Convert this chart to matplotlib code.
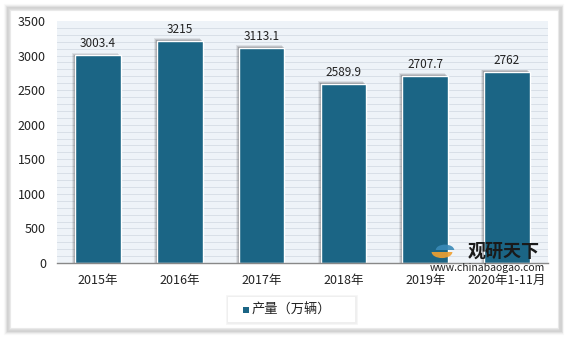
import matplotlib.pyplot as plt
from matplotlib.patches import Rectangle, Wedge
import numpy as np

plt.rcParams['font.family'] = ['Noto Sans CJK SC', 'DejaVu Sans']

categories = ['2015年', '2016年', '2017年', '2018年', '2019年', '2020年1-11月']
values = [3003.4, 3215, 3113.1, 2589.9, 2707.7, 2762]
value_labels = ['3003.4', '3215', '3113.1', '2589.9', '2707.7', '2762']
legend_label = '产量（万辆）'
bar_color = '#1b6585'

fig = plt.figure(figsize=(5.78, 3.37), dpi=100)
fig.patch.set_facecolor('white')

# outer panel with soft grey border (heavier to the right / bottom)
for i, a in enumerate([0.04, 0.07, 0.10, 0.14]):
    fig.patches.append(Rectangle((0.010 + i * 0.002, 0.012 + i * 0.003), 0.962 - i * 0.003, 0.97 - i * 0.006,
                                 transform=fig.transFigure, facecolor='none',
                                 edgecolor=(0.45, 0.45, 0.45, a), lw=3))

ax = fig.add_axes([57 / 578, 1 - 263 / 337, 491 / 578, 242 / 337])
ax.set_facecolor('#eef3f8')
x = np.arange(len(categories))
ax.set_xlim(-0.5, len(categories) - 0.5)
ax.set_ylim(0, 3500)

for yv in np.arange(100, 3500, 100):
    ax.axhline(yv, color='#d8dfe7', lw=0.7, zorder=0)

w = 0.56
# drop shadow to the upper-left
for k, alpha in enumerate([0.08, 0.12, 0.18]):
    off = (3 - k) * 0.012
    ax.bar(x - off, np.array(values) + (3 - k) * 12, width=w, color='black', alpha=alpha, zorder=1, lw=0)
ax.bar(x, values, width=w, color=bar_color, edgecolor='white', lw=1.0, zorder=2)

for xi, v, lab in zip(x, values, value_labels):
    ax.text(xi, v + 70, lab, ha='center', va='bottom', fontsize=8.5, color='#222222', zorder=3)

ax.set_yticks(np.arange(0, 3501, 500))
ax.set_xticks(x)
ax.set_xticklabels(categories, fontsize=9, color='#222222')
ax.tick_params(axis='y', labelsize=9, colors='#222222', length=0, pad=8)
ax.tick_params(axis='x', length=0, pad=8)
for s in ['top', 'right', 'left']:
    ax.spines[s].set_visible(False)
ax.spines['bottom'].set_color('#888888')
ax.spines['bottom'].set_linewidth(1.0)

# watermark
fig.text(504 / 578, 1 - 251 / 337, '观研天下', fontsize=13, fontweight='bold', color='#1a1a1a',
         ha='center', va='center')
fig.text(487 / 578, 1 - 268 / 337, 'www.chinabaogao.com', fontsize=7.5, color='#222222',
         ha='center', va='center')
fig.patches.append(Wedge((442 / 578, 1 - 252 / 337), 0.018, 180, 360, transform=fig.transFigure,
                         facecolor='#f0a030', edgecolor='none', alpha=0.9))
fig.patches.append(Wedge((445 / 578, 1 - 250 / 337), 0.016, 0, 180, transform=fig.transFigure,
                         facecolor='#3a8ab8', edgecolor='none', alpha=0.9))

# legend
for i, a in enumerate([0.05, 0.08]):
    fig.patches.append(Rectangle((228 / 578 - i * 0.002, 1 - 322 / 337 - i * 0.003), 127 / 578 + i * 0.004,
                                 25 / 337 + i * 0.006, transform=fig.transFigure, facecolor='none',
                                 edgecolor=(0.5, 0.5, 0.5, a), lw=2))
fig.patches.append(Rectangle((228 / 578, 1 - 322 / 337), 127 / 578, 25 / 337, transform=fig.transFigure,
                             facecolor='white', edgecolor='none'))
fig.patches.append(Rectangle((243 / 578, 1 - 313 / 337), 6 / 578, 6 / 337, transform=fig.transFigure,
                             facecolor=bar_color, edgecolor='none'))
fig.text(252 / 578, 1 - 310 / 337, legend_label, fontsize=9.5, color='#222222', va='center', ha='left')

fig.savefig('out.png', dpi=100)
